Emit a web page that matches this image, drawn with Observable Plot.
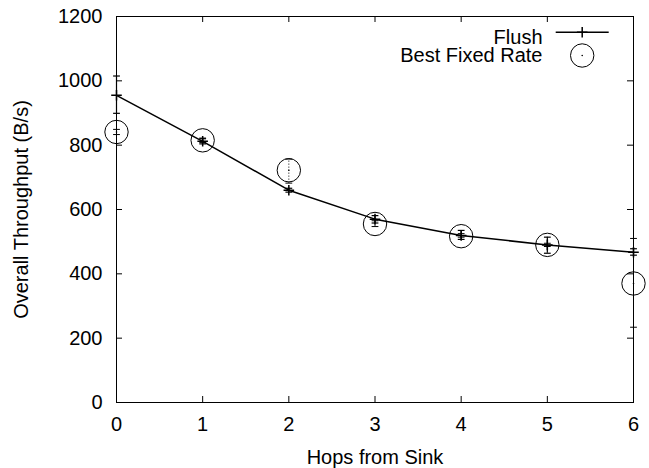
<!DOCTYPE html>
<html><head><meta charset="utf-8">
<script src="https://cdn.jsdelivr.net/npm/d3@7"></script>
<script src="https://cdn.jsdelivr.net/npm/@observablehq/plot@0.6"></script>
<style>body{margin:0;background:#fff}</style>
</head><body><div id="chart"></div>
<script>
const hops = [0, 1, 2, 3, 4, 5, 6];
const flushMean = [955, 812, 660, 570, 519, 490, 467];
const flushLow  = [899, 804, 654, 558, 507, 464, 458];
const flushHigh = [1015, 820, 666, 581, 535, 514, 478];
const fixedMean = [841, 815, 722, 555, 517, 490, 370];
const fixedLow  = [833, 808, 682, 547, 514, 485, 234];
const fixedHigh = [849, 822, 757, 565, 525, 495, 510];
const xTicks = [0, 1, 2, 3, 4, 5, 6];
const yTicks = [0, 200, 400, 600, 800, 1000, 1200];
const seriesNames = ["Flush", "Best Fixed Rate"];
const xTitle = "Hops from Sink";
const yTitle = "Overall Throughput (B/s)";

const flushRows = hops.map((h, i) => ({hops: h, mean: flushMean[i], lo: flushLow[i], hi: flushHigh[i]}));
const fixedRows = hops.map((h, i) => ({hops: h, mean: fixedMean[i], lo: fixedLow[i], hi: fixedHigh[i]}));

const W = 649, H = 468, mL = 116, mR = 16, mT = 16, mB = 66;
const plotW = W - mL - mR, plotH = H - mT - mB, tk = 6;
const hline = {draw(ctx, size) { const r = Math.sqrt(size / Math.PI); ctx.moveTo(-r, 0); ctx.lineTo(r, 0); }};

const chart = Plot.plot({
  width: W, height: H,
  marginLeft: mL, marginRight: mR, marginTop: mT, marginBottom: mB,
  style: {fontFamily: "'Liberation Sans', Arial, Helvetica, sans-serif", fontSize: "20px", color: "black", background: "white"},
  x: {domain: [0, 6]},
  y: {domain: [0, 1200]},
  marks: [
    Plot.frame({stroke: "black", strokeWidth: 1}),
    Plot.tickY(yTicks, {y: d => d, insetRight: plotW - tk, stroke: "black"}),
    Plot.tickY(yTicks, {y: d => d, insetLeft: plotW - tk, stroke: "black"}),
    Plot.tickX(xTicks, {x: d => d, insetTop: plotH - tk, stroke: "black"}),
    Plot.tickX(xTicks, {x: d => d, insetBottom: plotH - tk, stroke: "black"}),
    Plot.axisY(yTicks, {tickSize: 0, tickPadding: 14, tickFormat: d => String(d), label: null}),
    Plot.axisX(xTicks, {tickSize: 0, tickPadding: 14, tickFormat: d => String(d), label: null}),
    Plot.text([yTitle], {frameAnchor: "left", text: d => d, rotate: -90, dx: -94.5, textAnchor: "middle", lineAnchor: "middle"}),
    Plot.text([xTitle], {frameAnchor: "bottom", text: d => d, dy: 55, textAnchor: "middle", lineAnchor: "middle"}),
    // Best fixed rate: error bars and circles
    Plot.ruleX(fixedRows, {x: "hops", y1: "lo", y2: "hi", stroke: "black", strokeWidth: 1, strokeDasharray: "1,2"}),
    Plot.dot(fixedRows, {x: "hops", y: "lo", symbol: hline, r: 3.4, stroke: "black", strokeWidth: 1}),
    Plot.dot(fixedRows, {x: "hops", y: "hi", symbol: hline, r: 3.4, stroke: "black", strokeWidth: 1}),
    Plot.dot(fixedRows, {x: "hops", y: "mean", r: 11.7, stroke: "black", fill: "none", strokeWidth: 1}),
    Plot.dot(fixedRows, {x: "hops", y: "mean", r: 0.8, fill: "black"}),
    // Flush: error bars, line, points
    Plot.ruleX(flushRows, {x: "hops", y1: "lo", y2: "hi", stroke: "black", strokeWidth: 1.2}),
    Plot.dot(flushRows, {x: "hops", y: "lo", symbol: hline, r: 3.4, stroke: "black", strokeWidth: 1.2}),
    Plot.dot(flushRows, {x: "hops", y: "hi", symbol: hline, r: 3.4, stroke: "black", strokeWidth: 1.2}),
    Plot.line(flushRows, {x: "hops", y: "mean", stroke: "black", strokeWidth: 1.5}),
    Plot.dot(flushRows, {x: "hops", y: "mean", symbol: "plus", r: 3.5, stroke: "black", strokeWidth: 1.5}),
    // Legend
    Plot.text([seriesNames[0]], {frameAnchor: "top-right", text: d => d, dx: -91, dy: 21, textAnchor: "end", lineAnchor: "middle"}),
    Plot.text([seriesNames[1]], {frameAnchor: "top-right", text: d => d, dx: -91, dy: 39, textAnchor: "end", lineAnchor: "middle"}),
    Plot.dot([seriesNames[0]], {frameAnchor: "top-right", dx: -51.3, dy: 15.7, symbol: hline, r: 26.5, stroke: "black", strokeWidth: 1.5}),
    Plot.dot([seriesNames[0]], {frameAnchor: "top-right", dx: -51.3, dy: 15.7, symbol: "plus", r: 3.5, stroke: "black", strokeWidth: 1.5}),
    Plot.dot([seriesNames[1]], {frameAnchor: "top-right", dx: -51.3, dy: 39, r: 11.7, stroke: "black", fill: "none", strokeWidth: 1}),
    Plot.dot([seriesNames[1]], {frameAnchor: "top-right", dx: -51.3, dy: 39, r: 0.8, fill: "black"})
  ]
});
document.getElementById("chart").appendChild(chart);
</script>
</body></html>
